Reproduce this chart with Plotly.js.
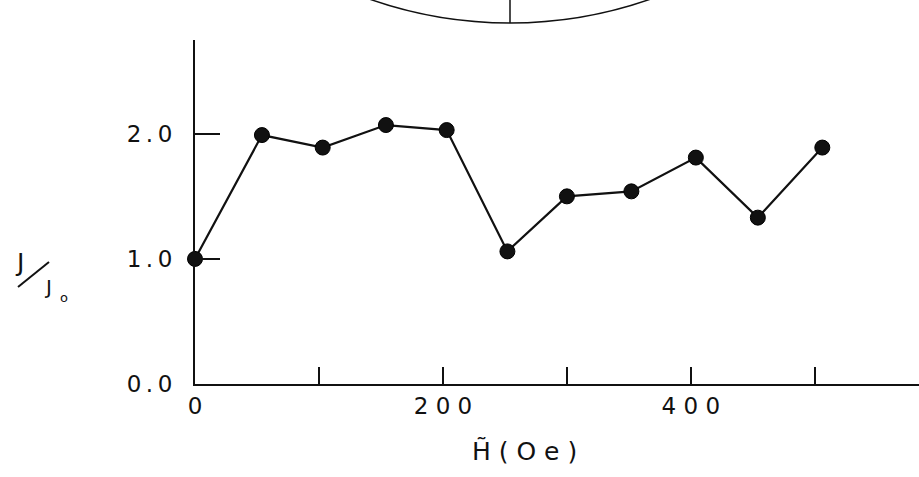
<!DOCTYPE html>
<html><head><meta charset="utf-8">
<script src="https://cdn.plot.ly/plotly-3.0.1.min.js"></script>
<style>html,body{margin:0;padding:0;background:#fff}</style>
</head><body><div id="chart" style="width:919px;height:477px"></div>
<script>
// Data
const fieldH = [0, 54, 103, 154, 203, 252, 300, 352, 404, 454, 506];
const ratioJ = [1.00, 1.99, 1.89, 2.07, 2.03, 1.06, 1.50, 1.54, 1.81, 1.33, 1.89];
const xTickVals = [0, 100, 200, 300, 400, 500];
const xTickText = ['0', '', '2 0 0', '', '4 0 0', ''];
const yTickVals = [0, 1, 2];
const yTickText = ['0\u2009.\u20090', '1\u2009.\u20090', '2\u2009.\u20090'];
const xTitle = 'H\u0303 ( O e )';

// layout geometry (pixels -> paper)
const W = 919, H = 477, L = 195, R = 0, T = 40, B = 93;
const pw = W - L - R, ph = H - T - B;
const px = v => (v - L) / pw;
const py = v => (H - B - v) / ph;

const FONT = 'DejaVu Sans, Liberation Sans, sans-serif';
const ink = '#111';

const trace = {
  x: fieldH, y: ratioJ, type: 'scatter', mode: 'lines+markers',
  line: {color: ink, width: 2.2},
  marker: {color: ink, size: 15, symbol: 'circle', line: {color: '#000', width: 1}},
  cliponaxis: false, hoverinfo: 'x+y'
};

const layout = {
  width: W, height: H,
  margin: {l: L, r: R, t: T, b: B, pad: 0},
  paper_bgcolor: '#fff', plot_bgcolor: '#fff',
  showlegend: false,
  font: {family: FONT, color: ink},
  xaxis: {
    range: [0, 584], showgrid: false, zeroline: false, automargin: false,
    showline: true, linecolor: ink, linewidth: 2,
    ticks: 'inside', ticklen: 17, tickwidth: 2, tickcolor: ink,
    tickmode: 'array', tickvals: xTickVals, ticktext: xTickText,
    tickfont: {family: FONT, size: 23, color: ink}, ticklabelstandoff: 0
  },
  yaxis: {
    range: [0, 2.75], showgrid: false, zeroline: false, automargin: false,
    showline: true, linecolor: ink, linewidth: 2,
    ticks: 'inside', ticklen: 25, tickwidth: 2, tickcolor: ink,
    tickmode: 'array', tickvals: yTickVals, ticktext: yTickText,
    tickfont: {family: FONT, size: 23, color: ink}, ticklabelstandoff: 16
  },
  annotations: [
    {text: xTitle, xref: 'paper', yref: 'paper', x: px(524), y: py(452),
     xanchor: 'center', yanchor: 'middle', showarrow: false,
     font: {family: FONT, size: 25, color: ink}},
    {text: 'J', xref: 'paper', yref: 'paper', x: px(19), y: py(262),
     xanchor: 'center', yanchor: 'middle', showarrow: false,
     font: {family: FONT, size: 25, color: ink}},
    {text: 'J', xref: 'paper', yref: 'paper', x: px(48), y: py(287),
     xanchor: 'center', yanchor: 'middle', showarrow: false,
     font: {family: FONT, size: 20, color: ink}},
    {text: 'o', xref: 'paper', yref: 'paper', x: px(64), y: py(297),
     xanchor: 'center', yanchor: 'middle', showarrow: false,
     font: {family: FONT, size: 13, color: ink}}
  ],
  shapes: [
    {type: 'line', xref: 'paper', yref: 'paper',
     x0: px(18), y0: py(287), x1: px(49), y1: py(262),
     line: {color: ink, width: 2}},
    {type: 'circle', xref: 'paper', yref: 'paper',
     x0: px(85), x1: px(935), y0: py(23), y1: py(-827),
     line: {color: ink, width: 1.5}},
    {type: 'line', xref: 'paper', yref: 'paper',
     x0: px(510), x1: px(510), y0: py(-5), y1: py(23),
     line: {color: ink, width: 1.5}}
  ]
};

Plotly.newPlot('chart', [trace], layout, {displayModeBar: false, staticPlot: true});
</script></body></html>
